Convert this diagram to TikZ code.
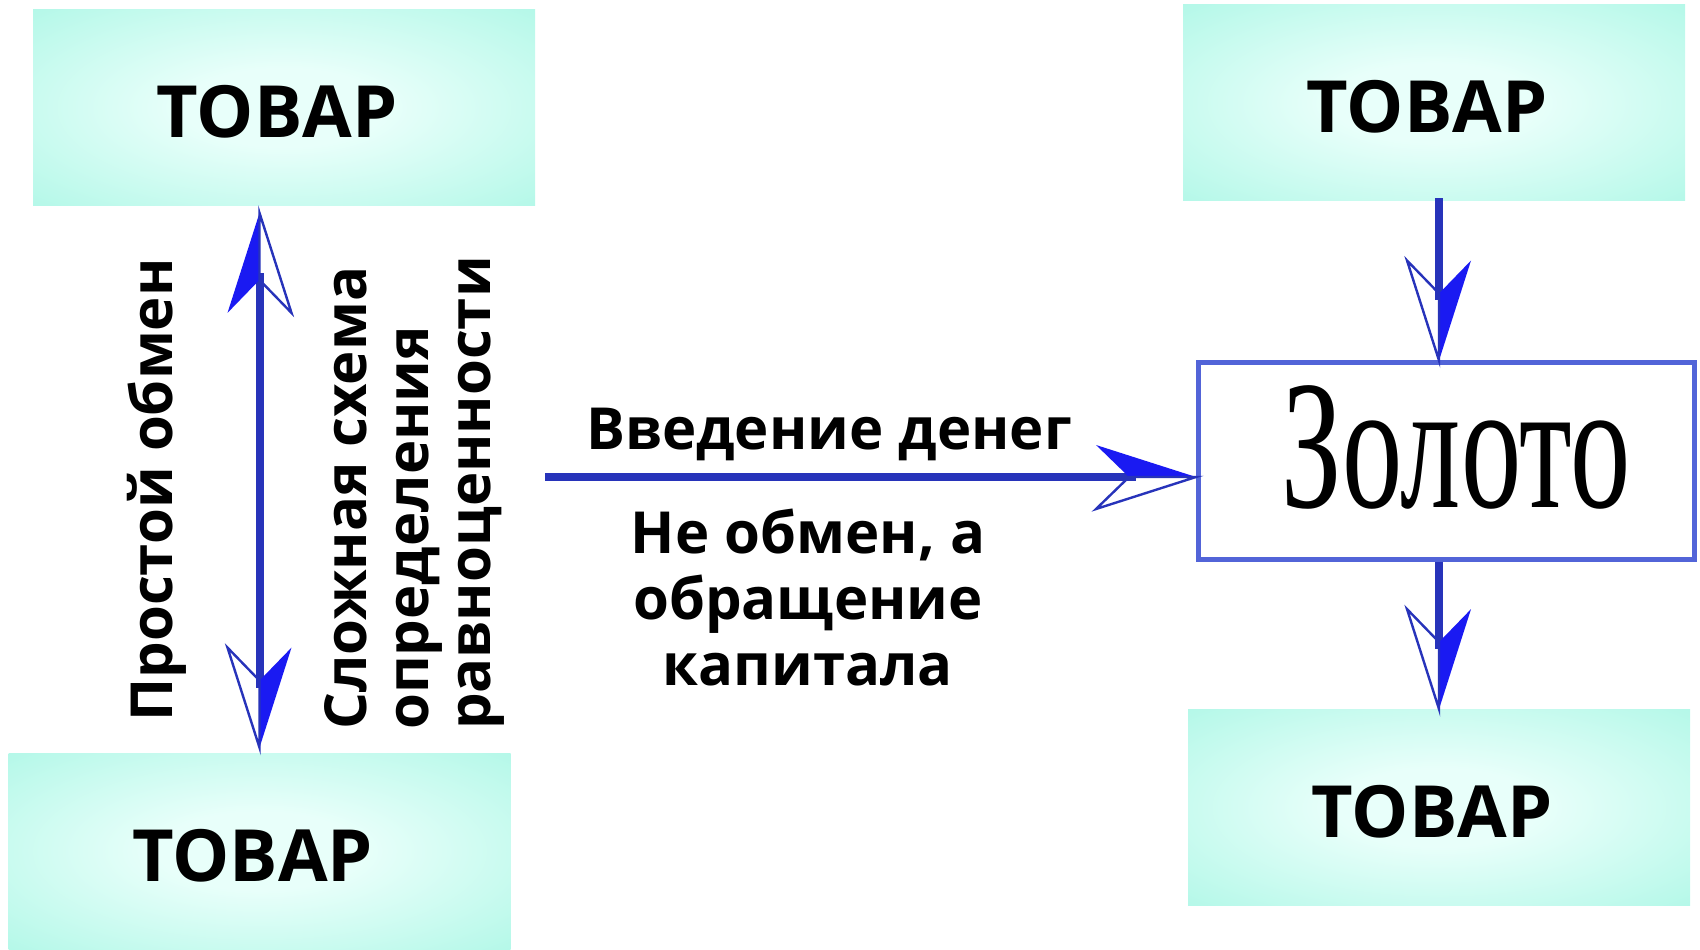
\documentclass[tikz,border=0pt]{standalone}
\usepackage{fontspec}
\setsansfont{Open Sans}
\newfontfamily\zolfont{Liberation Serif}
\usetikzlibrary{arrows.meta,calc,positioning}
\usepackage{xcolor}
\definecolor{mmint}{HTML}{9FF5E1}
\definecolor{mcenter}{HTML}{E8FFFA}
\definecolor{mshaft}{HTML}{2733BA}
\definecolor{mhead}{HTML}{1A1AF2}
\definecolor{mframe}{HTML}{5264D8}
\pgfdeclareradialshading{mintshade}{\pgfpoint{0bp}{0bp}}{color(0bp)=(mcenter); color(10bp)=(mcenter); color(46bp)=(mmint); color(100bp)=(mmint)}
\pgfdeclarearrow{
  name = halfbarb,
  parameters = {\the\pgfarrowlength,\the\pgfarrowwidth},
  setup code = {
    \pgfarrowssettipend{0pt}
    \pgfarrowssetbackend{-\pgfarrowlength}
    \pgfarrowssetlineend{-.6\pgfarrowlength}
    \pgfarrowssavethe\pgfarrowlength
    \pgfarrowssavethe\pgfarrowwidth
  },
  drawing code = {
    \pgfsetdash{}{0pt}
    \pgfsetmiterjoin
    \pgfpathmoveto{\pgfpointorigin}
    \pgfpathlineto{\pgfpoint{-\pgfarrowlength}{.5\pgfarrowwidth}}
    \pgfpathlineto{\pgfpoint{-.67\pgfarrowlength}{0pt}}
    \pgfpathclose
    \pgfusepathqfill
    \pgfsetlinewidth{1.2pt}
    \pgfpathmoveto{\pgfpointorigin}
    \pgfpathlineto{\pgfpoint{-\pgfarrowlength}{-.5\pgfarrowwidth}}
    \pgfpathlineto{\pgfpoint{-.67\pgfarrowlength}{0pt}}
    \pgfpathclose
    \pgfusepathqstroke
  },
  defaults = {length = 50pt, width = 32pt}
}
\tikzstyle{tovar}=[shading=mintshade, minimum width=251pt, minimum height=98pt, inner sep=0pt, text height=30pt, text depth=0pt, font=\sffamily\bfseries\fontsize{36}{36}\selectfont, execute at end node=\hspace*{7pt}]
\tikzstyle{gold}=[draw=mframe, line width=2.5pt, fill=white, minimum width=248pt, minimum height=98pt, inner sep=0pt, text depth=14pt, font=\zolfont\fontsize{92}{92}\selectfont]
\tikzstyle{lbl}=[inner sep=0pt, font=\sffamily\bfseries\fontsize{29}{31}\selectfont]
\tikzstyle{l1}=[line width=4pt, draw=mshaft]
\tikzstyle{barb}=[-{halfbarb[color=mshaft, fill=mhead]}]
\tikzstyle{dbarb}=[{halfbarb[color=mshaft, fill=mhead]}-{halfbarb[color=mshaft, fill=mhead]}]

\begin{document}
\begin{tikzpicture}[x=50pt, y=50pt]
    \useasboundingbox (0,0) rectangle (17,9.49);
    \node[tovar] at (2.84, 8.415) (tovar1) {ТОВАР};
    \node[tovar] at (2.595, 0.98) (tovar2) {ТОВАР};
    \node[tovar] at (14.34, 8.46) (tovar3) {ТОВАР};
    \node[tovar] at (14.39, 1.415) (tovar4) {ТОВАР};
    \node[gold] at (14.465, 4.88) (zoloto) {\hspace*{10pt}\scalebox{0.655}[1]{Золото}};

    \node[lbl, rotate=90] at (1.57, 4.59) (prostoy) {Простой обмен};
    \node[lbl, rotate=90, align=left] at (4.145, 4.56) (slozhn) {Сложная схема\\определения\\равноценности};
    \node[lbl] at (8.29, 5.15) (vveden) {Введение денег};
    \node[lbl, align=center, font=\sffamily\bfseries\fontsize{29}{33}\selectfont] at (8.08, 3.51) (neobmen) {Не обмен, а\\обращение\\капитала};

    \coordinate (h0) at (5.45, 4.72);
    \draw[l1, dbarb, shorten <=2.5pt, shorten >=3.5pt] (tovar2.north) -- (tovar2.north |- tovar1.south);
    \draw[l1, barb] (h0) -- (h0 -| zoloto.west);
    \draw[l1, barb] ([yshift=1.5pt]tovar4.north |- tovar3.south) -- (tovar4.north |- zoloto.north);
    \draw[l1, barb] (tovar4.north |- zoloto.south) -- (tovar4.north);
\end{tikzpicture}
\end{document}
